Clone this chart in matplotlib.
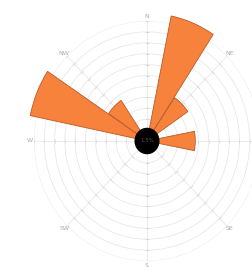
import numpy as np
import matplotlib
matplotlib.use("Agg")
import matplotlib.pyplot as plt

# wind rose, 16 sectors, frequencies in grid units
sectors = ["N", "NNE", "NE", "ENE", "E", "ESE", "SE", "SSE",
           "S", "SSW", "SW", "WSW", "W", "WNW", "NW", "NNW"]
freq = [0, 11.7, 4.8, 0, 4.7, 0, 0, 0,
        0, 0, 0, 0, 0, 11.6, 4.5, 0]
calm_label = "1.5%"
calm_size = 1.15
compass = ["N", "NE", "E", "SE", "S", "SW", "W", "NW"]
rings = list(range(1, 12))

W, H = 252, 267
fig = plt.figure(figsize=(W / 100, H / 100), dpi=100)
cx, cy, Rx, Ry = 147, 141, 113, 120
ax = fig.add_axes([(cx - Rx) / W, (H - cy - Ry) / H, 2 * Rx / W, 2 * Ry / H],
                  projection="polar")
ax.set_aspect("auto")
ax.set_theta_zero_location("N")
ax.set_theta_direction(-1)
ax.set_ylim(0, 11)
ax.spines["polar"].set_visible(False)
ax.set_facecolor("none")

# grid
ax.set_rgrids(rings, labels=[""] * len(rings))
ax.set_thetagrids(np.arange(0, 360, 45), labels=[""] * 8)
ax.grid(True, color="#e8e8e8", lw=0.6)
ax.tick_params(length=0)

# small ticks on the spokes
for k in range(8):
    ang = k * 45
    ax.plot(np.full(len(rings), np.deg2rad(ang)), rings, ls="none",
            marker=(2, 0, -ang + 90), ms=3, mew=0.5, color="#d8d8d8", zorder=2)

theta = np.deg2rad(np.arange(16) * 22.5)
bars = ax.bar(theta, freq, width=np.deg2rad(22.5) * 0.97, bottom=0,
              color="#f7823c", edgecolor="#b85a2c", lw=0.6, zorder=3)
for b in bars:
    b.set_clip_on(False)

# calm circle
tt = np.linspace(0, 2 * np.pi, 100)
ax.fill(tt, np.full_like(tt, calm_size), color="black", zorder=5, clip_on=False)
ax.text(0, 0, calm_label, color="#555555", fontsize=4, ha="center", va="center",
        zorder=6)

for i, lab in enumerate(compass):
    if lab == "E":
        continue  # falls outside the picture
    ax.text(np.deg2rad(i * 45), 11.4, lab, color="#aaaaaa", fontsize=4.5,
            ha="center", va="center", clip_on=False)

fig.savefig("out.png", dpi=100)
